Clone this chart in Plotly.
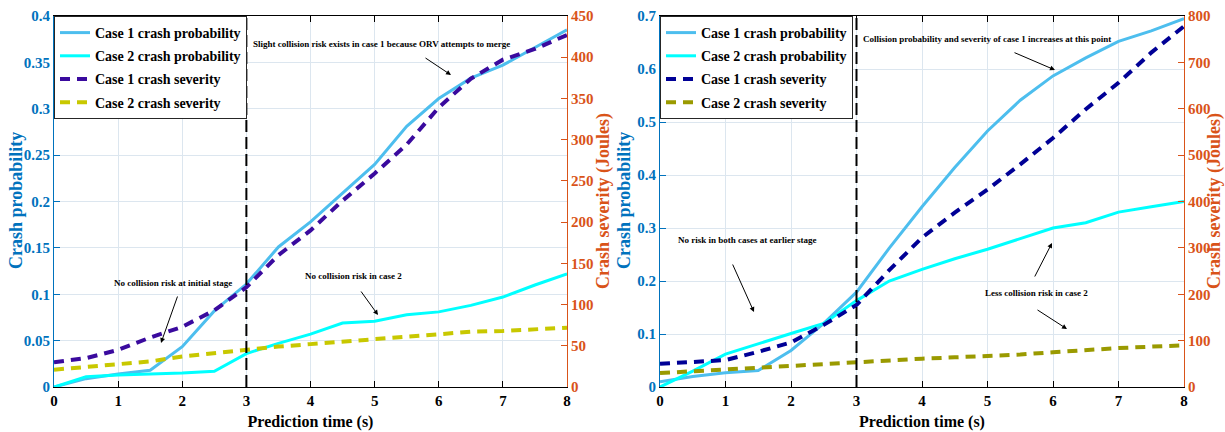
import plotly.graph_objects as go

# ---------------- data ----------------
TIME = [0, 0.5, 1, 1.5, 2, 2.5, 3, 3.5, 4, 4.5, 5, 5.5, 6, 6.5, 7, 7.5, 8]

# left panel
L_P1 = [0, 0.009, 0.014, 0.018, 0.0435, 0.082, 0.111, 0.151, 0.178, 0.209, 0.240, 0.281, 0.311, 0.333, 0.347, 0.366, 0.385]
L_P2 = [0, 0.011, 0.013, 0.014, 0.015, 0.017, 0.036, 0.047, 0.057, 0.069, 0.071, 0.078, 0.081, 0.088, 0.097, 0.110, 0.122]
L_S1 = [30, 35, 45, 60, 73, 93, 121, 160, 190, 226, 259, 294, 339, 374, 397, 410, 427]
L_S2 = [21, 24, 27, 31, 37, 41, 46, 49, 52, 55, 58, 61, 64, 67, 68, 70, 72]

# right panel
R_P1 = [0.01, 0.02, 0.027, 0.031, 0.069, 0.12, 0.179, 0.262, 0.34, 0.414, 0.483, 0.541, 0.587, 0.621, 0.652, 0.672, 0.695]
R_P2 = [0, 0.03, 0.062, 0.082, 0.101, 0.12, 0.163, 0.20, 0.222, 0.242, 0.26, 0.28, 0.30, 0.31, 0.33, 0.34, 0.35]
R_S1 = [50, 54, 58, 76, 96, 134, 177, 252, 322, 376, 426, 480, 537, 599, 656, 721, 778]
R_S2 = [30, 34, 38, 42, 47, 50, 55, 58, 61, 64, 66, 70, 75, 80, 84, 87, 90]

SPLIT_TIME = 3
NAMES = ["Case 1 crash probability", "Case 2 crash probability",
         "Case 1 crash severity", "Case 2 crash severity"]

# ---------------- styling ----------------
W, H = 1225, 432
FONT = "Liberation Serif"
BLUE = "#0072BD"
ORANGE = "#D95319"
GRID = "#dce6ef"


def px(x):
    return x / W


def py(y):
    return 1 - y / H


LEFT_DOM = [px(54), px(567)]
RIGHT_DOM = [px(660), px(1184)]
Y_DOM = [py(387), py(16)]

fig = go.Figure()


def add_panel(p1, p2, s1, s2, xa, ya_p, ya_s, leg, sev1_col, sev2_col):
    fig.add_trace(go.Scatter(x=TIME, y=p1, name=NAMES[0], mode="lines",
                             line=dict(color="#4DBEEE", width=3),
                             xaxis=xa, yaxis=ya_p, legend=leg, legendgroup=leg + "a"))
    fig.add_trace(go.Scatter(x=TIME, y=p2, name=NAMES[1], mode="lines",
                             line=dict(color="#00FFFF", width=3),
                             xaxis=xa, yaxis=ya_p, legend=leg, legendgroup=leg + "b"))
    fig.add_trace(go.Scatter(x=TIME, y=s1, name=NAMES[2], mode="lines",
                             line=dict(color=sev1_col, width=4, dash="10px,7px"),
                             xaxis=xa, yaxis=ya_s, legend=leg, legendgroup=leg + "c"))
    fig.add_trace(go.Scatter(x=TIME, y=s2, name=NAMES[3], mode="lines",
                             line=dict(color=sev2_col, width=4, dash="10px,7px"),
                             xaxis=xa, yaxis=ya_s, legend=leg, legendgroup=leg + "d"))


add_panel(L_P1, L_P2, L_S1, L_S2, "x", "y", "y2", "legend", "#3A0A9E", "#C8C800")
add_panel(R_P1, R_P2, R_S1, R_S2, "x2", "y3", "y4", "legend2", "#000096", "#9A9A00")

tickfont_k = dict(family=FONT, size=15, color="black", weight="bold")


def xaxis(dom, anchor):
    return dict(domain=dom, anchor=anchor, range=[0, 8], dtick=1, tick0=0,
                automargin=False,
                showgrid=True, gridcolor=GRID, gridwidth=1, zeroline=False,
                showline=True, linecolor="black", linewidth=1, mirror="ticks",
                ticks="inside", ticklen=6, tickcolor="black",
                tickfont=tickfont_k,
                title=dict(text="Prediction time (s)", standoff=7,
                           font=dict(family=FONT, size=16, color="black", weight="bold")))


def yleft(anchor, rng, dt):
    return dict(domain=Y_DOM, anchor=anchor, range=rng, dtick=dt, tick0=0,
                automargin=False,
                showgrid=True, gridcolor=GRID, gridwidth=1, zeroline=False,
                showline=True, linecolor=BLUE, linewidth=1,
                ticks="inside", ticklen=6, tickcolor=BLUE,
                tickfont=dict(family=FONT, size=15, color=BLUE, weight="bold"))


def yright(anchor, over, rng, dt):
    return dict(overlaying=over, side="right", anchor=anchor, range=rng, dtick=dt, tick0=0,
                automargin=False,
                showgrid=False, zeroline=False,
                showline=True, linecolor=ORANGE, linewidth=1,
                ticks="inside", ticklen=6, tickcolor=ORANGE,
                tickfont=dict(family=FONT, size=15, color=ORANGE, weight="bold"))


legend_common = dict(xanchor="left", yanchor="top", bgcolor="white",
                     bordercolor="#262626", borderwidth=1, itemwidth=30,
                     traceorder="grouped", tracegroupgap=2,
                     font=dict(family=FONT, size=14, color="black", weight="bold"))

ann_font = dict(family=FONT, size=9, color="black", weight="bold")
title_font_b = dict(family=FONT, size=18, color=BLUE, weight="bold")
title_font_o = dict(family=FONT, size=18, color=ORANGE, weight="bold")

annotations = []


def label(text, cx, cy):
    annotations.append(dict(text=text, x=px(cx), y=py(cy), xref="paper", yref="paper",
                            showarrow=False, font=ann_font, xanchor="center", yanchor="middle"))


def arrow(tx, ty, hx, hy):
    annotations.append(dict(text="", x=px(hx), y=py(hy), xref="paper", yref="paper",
                            ax=tx - hx, ay=ty - hy, axref="pixel", ayref="pixel",
                            showarrow=True, arrowhead=2, arrowsize=1, arrowwidth=1,
                            arrowcolor="black", standoff=0, startstandoff=0))


def ytitle(text, cx, cy, f):
    annotations.append(dict(text=text, x=px(cx), y=py(cy), xref="paper", yref="paper",
                            showarrow=False, textangle=-90, font=f,
                            xanchor="center", yanchor="middle"))


# left panel annotations
label("Slight collision risk exists in case 1 because ORV attempts to merge", 381, 44)
arrow(424, 57, 451, 75)
label("No collision risk at initial stage", 173, 283)
arrow(178, 295, 161, 343)
label("No collision risk in case 2", 353, 276)
arrow(360, 290, 378, 315)

# right panel annotations
label("Collision probability and severity of case 1 increases at this point", 987, 39)
arrow(1013, 52, 1055, 70)
label("No risk in both cases at earlier stage", 747, 240)
arrow(732, 263, 754, 312)
label("Less collision risk in case 2", 1036, 293)
arrow(1034, 278, 1052, 243)
arrow(1036, 309, 1067, 329)

# axis titles
ytitle("Crash probability", 16, 201, title_font_b)
ytitle("Crash severity (Joules)", 603, 201, title_font_o)
ytitle("Crash probability", 624, 201, title_font_b)
ytitle("Crash severity (Joules)", 1214, 201, title_font_o)

shapes = [
    dict(type="line", xref="x", yref="y domain", x0=SPLIT_TIME, x1=SPLIT_TIME, y0=0, y1=1,
         line=dict(color="black", width=2, dash="12px,5px"), layer="above"),
    dict(type="line", xref="x2", yref="y3 domain", x0=SPLIT_TIME, x1=SPLIT_TIME, y0=0, y1=1,
         line=dict(color="black", width=2, dash="12px,5px"), layer="above"),
]

fig.update_layout(
    width=W, height=H,
    margin=dict(l=0, r=0, t=0, b=0, autoexpand=False),
    paper_bgcolor="white", plot_bgcolor="white",
    showlegend=True,
    xaxis=xaxis(LEFT_DOM, "y"),
    yaxis=yleft("x", [0, 0.4], 0.05),
    yaxis2=yright("x", "y", [0, 450], 50),
    xaxis2=xaxis(RIGHT_DOM, "y3"),
    yaxis3=yleft("x2", [0, 0.7], 0.1),
    yaxis4=yright("x2", "y3", [0, 800], 100),
    legend=dict(x=px(54), y=py(16), **legend_common),
    legend2=dict(x=px(660), y=py(16), **legend_common),
    annotations=annotations,
    shapes=shapes,
)

fig.write_html("out.html",
               config={"displayModeBar": False},
               post_script="document.body.style.margin='0';document.body.style.padding='0';")
